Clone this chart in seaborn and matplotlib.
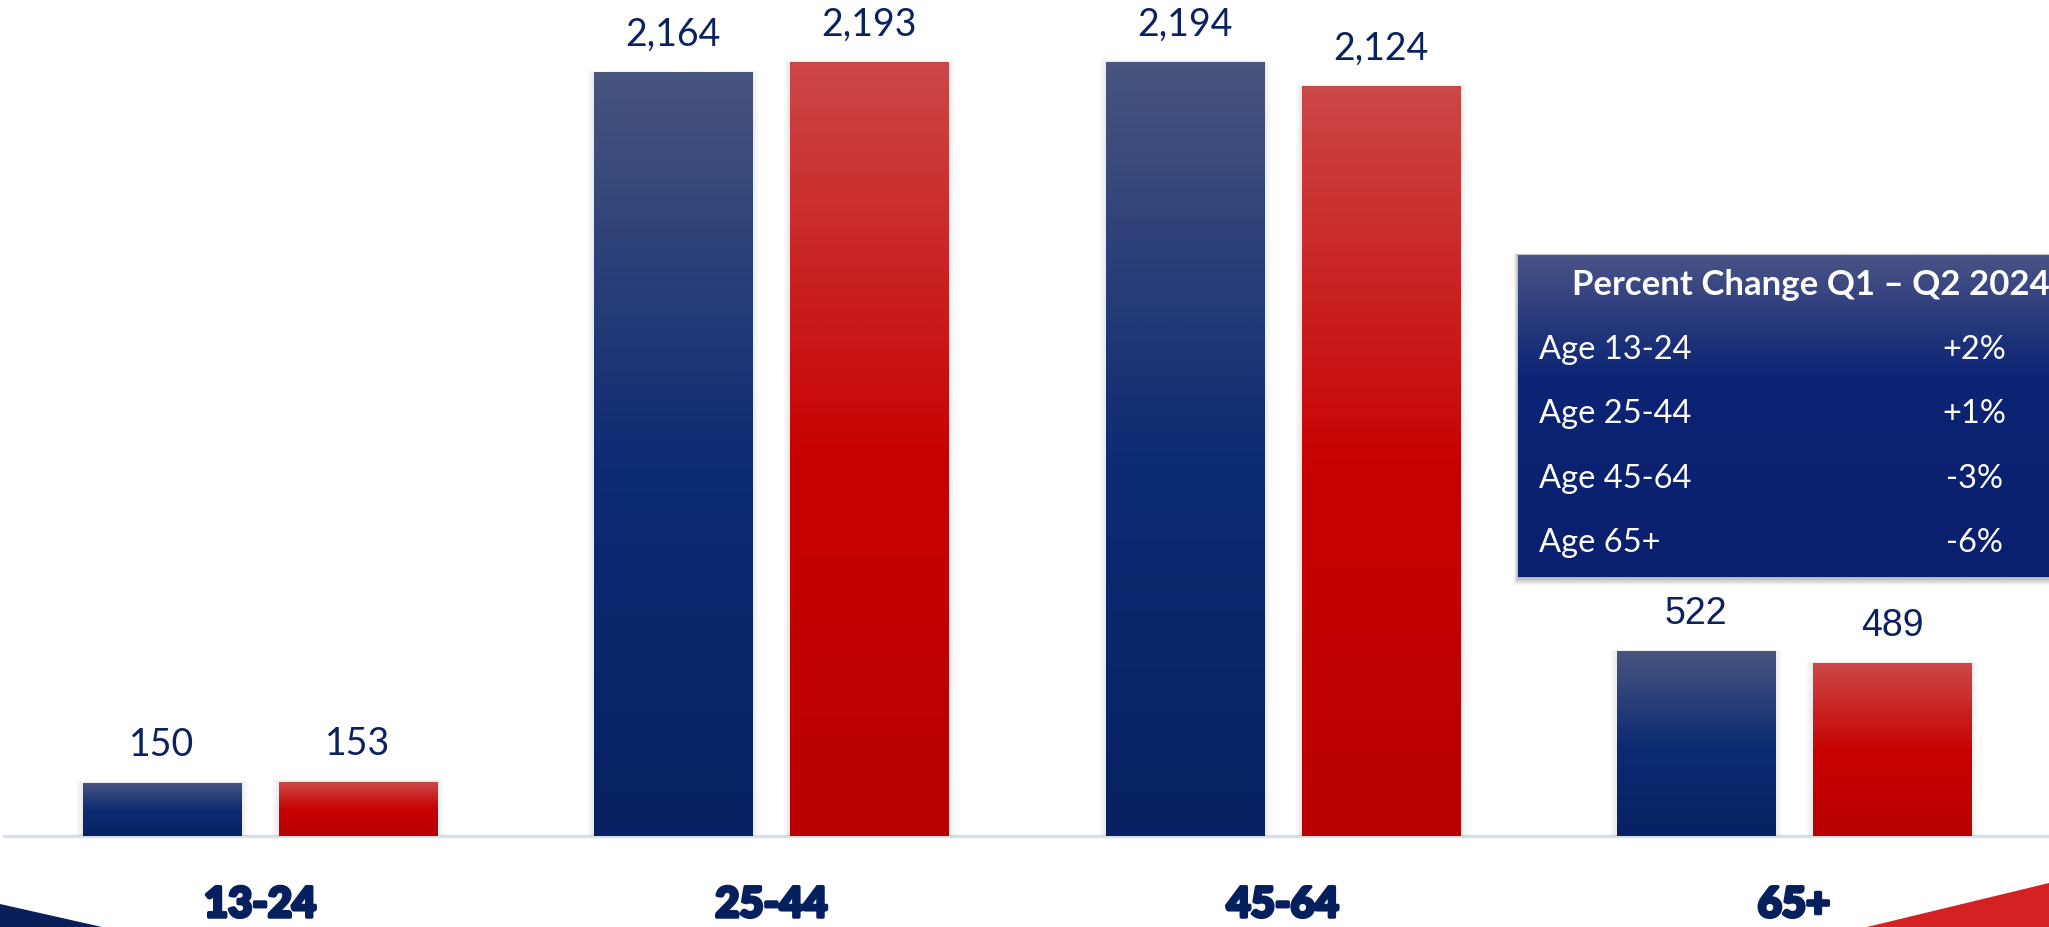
import numpy as np
import pandas as pd
import matplotlib
matplotlib.use("Agg")
import matplotlib.pyplot as plt
import matplotlib.patheffects as pe
import seaborn as sns
from matplotlib.colors import LinearSegmentedColormap
from matplotlib.patches import Polygon, Rectangle

# ---- data -------------------------------------------------------------
age_groups = ["13-24", "25-44", "45-64", "65+"]
quarters = ["Q1 2024", "Q2 2024"]
q1_users = [150, 2164, 2194, 522]
q2_users = [153, 2193, 2124, 489]

table_title = "Percent Change Q1 \u2013 Q2 2024"
table_rows = ["Age 13-24", "Age 25-44", "Age 45-64", "Age 65+"]
table_changes = ["+2%", "+1%", "-3%", "-6%"]

# ---- style ------------------------------------------------------------
NAVY = "#0a2566"
RED = "#c00000"
TEXT_NAVY = "#0b2160"
W, H = 2049, 928

sns.set_style("white")
plt.rcParams["font.family"] = ["Lato", "DejaVu Sans"]

blue_cmap = LinearSegmentedColormap.from_list(
    "blue_grad", [(0, "#49547f"), (0.52, "#0b2b72"), (1, "#062262")])
red_cmap = LinearSegmentedColormap.from_list(
    "red_grad", [(0, "#cc4747"), (0.52, "#c80000"), (1, "#b80000")])
box_cmap = LinearSegmentedColormap.from_list(
    "box_grad", [(0, "#4a5386"), (0.38, "#0c2474"), (1, "#0a1f6d")])

fig = plt.figure(figsize=(W / 100, H / 100), dpi=100)
fig.patch.set_facecolor("white")
ax = fig.add_axes([0, 0, 1, 1])

df = pd.DataFrame({
    "Age": age_groups * 2,
    "Quarter": [quarters[0]] * len(age_groups) + [quarters[1]] * len(age_groups),
    "Users": q1_users + q2_users,
})
sns.barplot(data=df, x="Age", y="Users", hue="Quarter", hue_order=quarters,
            palette=[NAVY, RED], width=0.767, gap=0.194, legend=False,
            ax=ax, zorder=3, edgecolor="none")

ax.set_xlim(-0.5085, 3.499)
ax.set_ylim(-259.4, 2371.7)
ax.axis("off")

# pixel size in data units
x_px = (ax.get_xlim()[1] - ax.get_xlim()[0]) / W
y_px = (ax.get_ylim()[1] - ax.get_ylim()[0]) / H

# baseline
ax.axhline(0, xmin=4 / W, xmax=1, color="#d8dfea", lw=2.4, zorder=1)

# gradient fills, soft shadows and value labels
grad = np.linspace(0, 1, 256).reshape(-1, 1)
label_fonts = [["Lato", "DejaVu Sans"]] * 3 + [["Liberation Sans", "DejaVu Sans"]]
for container, cmap in zip(ax.containers, [blue_cmap, red_cmap]):
    for i, bar in enumerate(container):
        x, y = bar.get_x(), bar.get_y()
        w, h = bar.get_width(), bar.get_height()
        for k in range(1, 8):
            ax.add_patch(Rectangle((x - k * x_px, y), w + 2 * k * x_px,
                                   h + k * 0.25 * y_px, facecolor="black",
                                   edgecolor="none", alpha=0.012, zorder=2))
        im = ax.imshow(grad, cmap=cmap, aspect="auto",
                       extent=[x, x + w, y, y + h], zorder=3.5,
                       interpolation="bilinear")
        im.set_clip_path(bar)
        ax.annotate(f"{int(h):,}", (x + w / 2, h), xytext=(0, 27.5),
                    textcoords="offset points", ha="center", va="center",
                    fontsize=27, color=TEXT_NAVY, family=label_fonts[i],
                    zorder=5)

ax.set_xlim(-0.5085, 3.499)
ax.set_ylim(-259.4, 2371.7)

# category labels under the baseline
for i, name in enumerate(age_groups):
    ax.text(i, 1 - 906 / H, name, transform=ax.get_xaxis_transform(),
            ha="center", va="center", fontsize=30, fontweight="black",
            color="#06205e", zorder=5,
            path_effects=[pe.withStroke(linewidth=2.5, foreground="#06205e")])

# corner accents
fig.add_artist(Polygon([(0, 1 - 905 / H), (102 / W, 0), (0, 0)],
                       closed=True, transform=fig.transFigure,
                       facecolor="#0a1f5a", edgecolor="none", zorder=0))
fig.add_artist(Polygon([(1867 / W, 0), (1, 1 - 884 / H), (1, 0)],
                       closed=True, transform=fig.transFigure,
                       facecolor="#d42121", edgecolor="none", zorder=0))

# percent-change panel
bx0, by0, by1 = 1518, 256, 578
for k in range(1, 9):
    fig.add_artist(Rectangle(((bx0 - k * 0.5) / W, 1 - (by1 + k) / H),
                             (W - bx0 + 10) / W, (by1 - by0 + k * 1.2) / H,
                             transform=fig.transFigure, facecolor="black",
                             edgecolor="none", alpha=0.04, zorder=4))
bax = fig.add_axes([bx0 / W, 1 - by1 / H, (W - bx0) / W, (by1 - by0) / H])
bax.imshow(grad, cmap=box_cmap, aspect="auto", extent=[0, 1, 0, 1],
           interpolation="bilinear")
bax.set_xlim(0, 1)
bax.set_ylim(0, 1)
bax.axis("off")
bax.set_zorder(5)

fig.text(1572 / W, 1 - 285 / H, table_title, ha="left", va="center",
         fontsize=25, fontweight="bold", color="white", zorder=10)
row_y = [350, 414, 479, 543]
for label, change, yy in zip(table_rows, table_changes, row_y):
    fig.text(1539 / W, 1 - yy / H, label, ha="left", va="center",
             fontsize=23.5, fontweight="normal", color="white", zorder=10)
    fig.text(1974 / W, 1 - yy / H, change, ha="center", va="center",
             fontsize=23.5, fontweight="normal", color="white", zorder=10)

fig.savefig("out.png", dpi=100, facecolor="white")
